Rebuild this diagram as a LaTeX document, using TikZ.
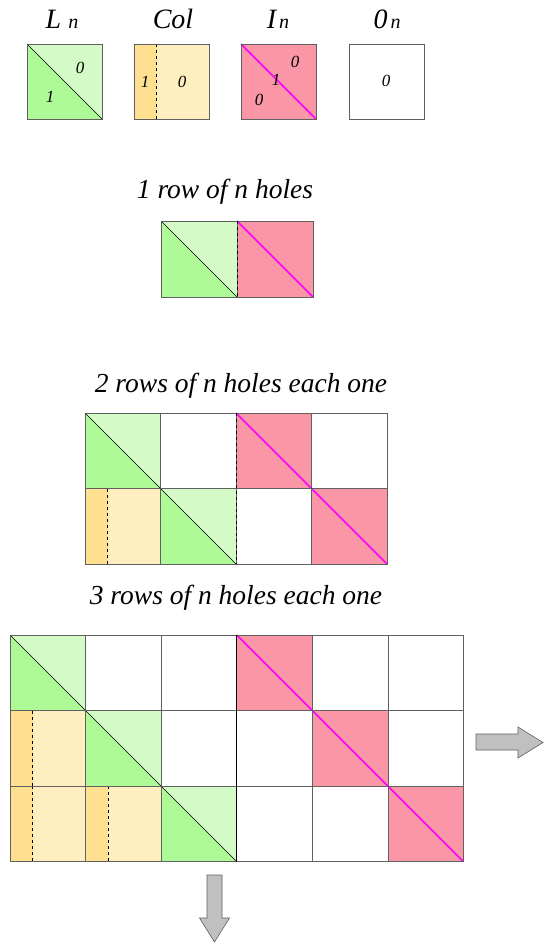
\documentclass[tikz,border=0pt]{standalone}
\usepackage{fontspec}
\setmainfont{Liberation Serif}
\definecolor{lgreen}{HTML}{D4FAC8}
\definecolor{dgreen}{HTML}{AEFA96}
\definecolor{pinkc}{HTML}{FA96A5}
\definecolor{colD}{HTML}{FFE091}
\definecolor{colL}{HTML}{FFEEC0}
\definecolor{magc}{HTML}{FF00FF}
\definecolor{arrowgrey}{HTML}{C0C0C0}
\definecolor{bordergrey}{HTML}{606060}
\tikzset{
  cellborder/.style={draw=bordergrey, line width=0.7pt},
  diagline/.style={draw=black, line width=0.5pt},
  magline/.style={draw=magc, line width=1.6pt},
  title/.style={font=\itshape\fontsize{27.5}{30}\selectfont, anchor=base, inner sep=0pt},
  bigtitle/.style={font=\itshape\fontsize{28}{30}\selectfont, anchor=base, inner sep=0pt},
  lbl/.style={font=\itshape\fontsize{17}{18}\selectfont, inner sep=0pt},
  fatarrow/.style={fill=arrowgrey, draw=bordergrey, line width=0.6pt},
}
% cell macros: #1 = x, #2 = y (top), #3 = size
\newcommand{\mkLcell}[3]{%
  \fill[lgreen] (#1,#2) rectangle ++(#3,#3);
  \fill[dgreen] (#1,#2) -- (#1,#2+#3) -- (#1+#3,#2+#3) -- cycle;
  \draw[diagline] (#1,#2) -- ++(#3,#3);
  \draw[cellborder] (#1,#2) rectangle ++(#3,#3);}
\newcommand{\mkCcell}[3]{%
  \fill[colL] (#1,#2) rectangle ++(#3,#3);
  \fill[colD] (#1,#2) rectangle ++(0.3*#3,#3);
  \draw[black, dashed, line width=0.6pt] (#1+0.3*#3,#2) -- ++(0,#3);
  \draw[cellborder] (#1,#2) rectangle ++(#3,#3);}
\newcommand{\mkIcell}[3]{%
  \fill[pinkc] (#1,#2) rectangle ++(#3,#3);
  \draw[magline] (#1,#2) -- ++(#3,#3);
  \draw[cellborder] (#1,#2) rectangle ++(#3,#3);}
\newcommand{\mkZcell}[3]{%
  \fill[white] (#1,#2) rectangle ++(#3,#3);
  \draw[cellborder] (#1,#2) rectangle ++(#3,#3);}
\begin{document}
\begin{tikzpicture}[x=1pt,y=-1pt]
\useasboundingbox (0,0) rectangle (550,948);
\fill[white] (0,0) rectangle (550,948);

% ---------- top legend ----------
\node[bigtitle] (tL) at (62,28) {L\hspace{7pt}{\fontsize{20}{20}\selectfont n}};
\node[bigtitle] (tC) at (173,28) {Col};
\node[bigtitle] (tI) at (278,28) {I\hspace{3pt}{\fontsize{20}{20}\selectfont n}};
\node[bigtitle] (tZ) at (387,28) {0\hspace{3pt}{\fontsize{20}{20}\selectfont n}};

\mkLcell{27}{44}{75}
\mkCcell{134}{44}{75}
\mkIcell{241}{44}{75}
\mkZcell{349}{44}{75}

\node[lbl] (l0) at (80,68) {0};
\node[lbl] (l1) at (50,97) {1};
\node[lbl] (c1) at (145,82) {1};
\node[lbl] (c0) at (182,82) {0};
\node[lbl] (i0a) at (295,62) {0};
\node[lbl] (i1) at (276,80) {1};
\node[lbl] (i0b) at (259,100) {0};
\node[lbl] (z0) at (386,81) {0};

% ---------- 1 row ----------
\node[title] (t1) at (225,198) {1 row of n holes};
\mkLcell{161}{221}{76}
\mkIcell{237}{221}{76}
\draw[black, dashed, line width=0.8pt] (237,221) -- (237,297);

% ---------- 2 rows ----------
\node[title] (t2) at (241,392) {2 rows of n holes each one};
\mkLcell{85}{413}{75.5}
\mkZcell{160.5}{413}{75.5}
\mkIcell{236}{413}{75.5}
\mkZcell{311.5}{413}{75.5}
\mkCcell{85}{488.5}{75.5}
\mkLcell{160.5}{488.5}{75.5}
\mkZcell{236}{488.5}{75.5}
\mkIcell{311.5}{488.5}{75.5}
\draw[black, dashed, line width=0.8pt] (236,413) -- (236,564);

% ---------- 3 rows ----------
\node[title] (t3) at (236,604) {3 rows of n holes each one};
% row 1
\mkLcell{10}{635}{75.6}
\mkZcell{85.6}{635}{75.6}
\mkZcell{161.2}{635}{75.6}
\mkIcell{236.8}{635}{75.6}
\mkZcell{312.4}{635}{75.6}
\mkZcell{388}{635}{75.6}
% row 2
\mkCcell{10}{710.6}{75.6}
\mkLcell{85.6}{710.6}{75.6}
\mkZcell{161.2}{710.6}{75.6}
\mkZcell{236.8}{710.6}{75.6}
\mkIcell{312.4}{710.6}{75.6}
\mkZcell{388}{710.6}{75.6}
% row 3
\mkCcell{10}{786.2}{75.6}
\mkCcell{85.6}{786.2}{75.6}
\mkLcell{161.2}{786.2}{75.6}
\mkZcell{236.8}{786.2}{75.6}
\mkZcell{312.4}{786.2}{75.6}
\mkIcell{388}{786.2}{75.6}
\draw[black, line width=1pt] (236.8,635) -- (236.8,861.8);

% ---------- arrows ----------
\draw[fatarrow] (476,734) -- (518,734) -- (518,727) -- (543,742.5) -- (518,758) -- (518,750) -- (476,750) -- cycle;
\draw[fatarrow] (207,875) -- (222,875) -- (222,918) -- (229.5,918) -- (214.5,942) -- (199.5,918) -- (207,918) -- cycle;
\end{tikzpicture}
\end{document}
